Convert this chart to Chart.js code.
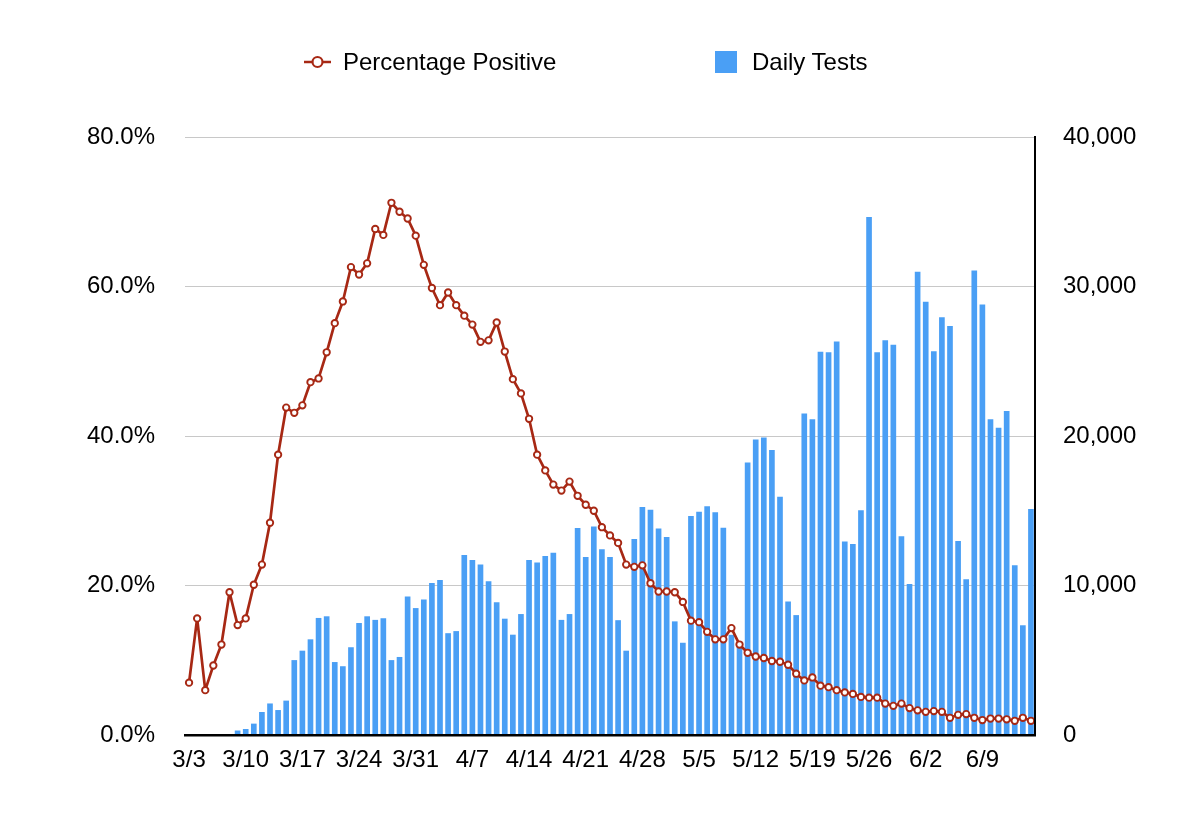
<!DOCTYPE html>
<html>
<head>
<meta charset="utf-8">
<title>Percentage Positive / Daily Tests</title>
<script src="https://cdn.jsdelivr.net/npm/chart.js@4.4.0/dist/chart.umd.min.js"></script>
<style>
    html, body { margin: 0; padding: 0; background: #fff; }
    #wrap { position: relative; width: 1200px; height: 832px; }
    #legend { position: absolute; left: 0; top: 0; width: 1200px; height: 100px;
        font-family: "Liberation Sans", Arial, Helvetica, sans-serif; font-size: 24px; color: #000; }
    .item { position: absolute; top: 48px; height: 28px; display: flex; align-items: center; }
    .item span { white-space: nowrap; }
    #item-line { left: 304px; }
    #item-line svg { margin-right: 12px; }
    #item-bar { left: 715px; }
    #item-bar i { display: inline-block; width: 22px; height: 22px; margin-right: 15px; }
</style>
</head>
<body>
<div id="wrap">
    <canvas id="chart" width="1200" height="832"></canvas>
    <div id="legend">
        <div class="item" id="item-line">
            <svg width="27" height="14"><line x1="0" y1="7" x2="27" y2="7" stroke-width="2.5"></line><circle cx="13.5" cy="7" r="5" fill="#fff" stroke-width="2.2"></circle></svg>
            <span id="label-line"></span>
        </div>
        <div class="item" id="item-bar"><i></i><span id="label-bar"></span></div>
    </div>
</div>
<script>
// one entry per day, 3/3 .. 6/15
const days = [
    '3/3','3/4','3/5','3/6','3/7','3/8','3/9','3/10','3/11','3/12','3/13','3/14','3/15','3/16','3/17',
    '3/18','3/19','3/20','3/21','3/22','3/23','3/24','3/25','3/26','3/27','3/28','3/29','3/30','3/31',
    '4/1','4/2','4/3','4/4','4/5','4/6','4/7','4/8','4/9','4/10','4/11','4/12','4/13','4/14','4/15',
    '4/16','4/17','4/18','4/19','4/20','4/21','4/22','4/23','4/24','4/25','4/26','4/27','4/28','4/29','4/30',
    '5/1','5/2','5/3','5/4','5/5','5/6','5/7','5/8','5/9','5/10','5/11','5/12','5/13','5/14','5/15',
    '5/16','5/17','5/18','5/19','5/20','5/21','5/22','5/23','5/24','5/25','5/26','5/27','5/28','5/29','5/30','5/31',
    '6/1','6/2','6/3','6/4','6/5','6/6','6/7','6/8','6/9','6/10','6/11','6/12','6/13','6/14','6/15'
];

// only these dates get a label under the axis
const tickLabels = ['3/3','3/10','3/17','3/24','3/31','4/7','4/14','4/21','4/28','5/5','5/12','5/19','5/26','6/2','6/9'];

const pctTicks = [0, 20, 40, 60, 80];
const testTicks = [0, 10000, 20000, 30000, 40000];

// percentage positive, in %
const percentPositive = [
    7.0, 15.6, 6.0, 9.3, 12.1, 19.1, 14.7, 15.6, 20.1, 22.8, 28.4, 37.5, 43.8, 43.1, 44.1,
    47.2, 47.7, 51.2, 55.1, 58.0, 62.6, 61.6, 63.1, 67.7, 66.9, 71.2, 70.0, 69.1, 66.8,
    62.9, 59.8, 57.5, 59.2, 57.5, 56.1, 54.9, 52.6, 52.8, 55.2, 51.3, 47.6, 45.7, 42.3, 37.5,
    35.4, 33.5, 32.7, 33.9, 32.0, 30.8, 30.0, 27.8, 26.7, 25.7, 22.8, 22.5, 22.7, 20.3, 19.2,
    19.2, 19.1, 17.8, 15.3, 15.1, 13.8, 12.8, 12.8, 14.3, 12.1, 11.0, 10.5, 10.3, 9.9, 9.8,
    9.4, 8.2, 7.3, 7.7, 6.6, 6.4, 6.0, 5.7, 5.5, 5.1, 5.0, 5.0, 4.2, 3.9, 4.2, 3.6,
    3.3, 3.1, 3.2, 3.1, 2.3, 2.7, 2.8, 2.3, 2.0, 2.2, 2.2, 2.1, 1.9, 2.3, 1.9
];

// daily tests
const dailyTests = [
    0, 0, 0, 0, 0, 0, 300, 400, 760, 1540, 2110, 1670, 2300, 5010, 5640,
    6400, 7830, 7940, 4880, 4600, 5870, 7490, 7940, 7700, 7810, 5010, 5220, 9270, 8490,
    9060, 10160, 10370, 6810, 6950, 12040, 11700, 11410, 10290, 8880, 7780, 6710, 8090, 11700, 11540,
    11980, 12190, 7700, 8090, 13840, 11910, 13940, 12430, 11910, 7680, 5640, 13110, 15250, 15070, 13810,
    13240, 7600, 6170, 14650, 14930, 15300, 14900, 13860, 6700, 5900, 18230, 19770, 19900, 19060, 15930,
    8930, 8020, 21510, 21120, 25640, 25610, 26320, 12950, 12770, 15040, 34650, 25610, 26400, 26110, 13290, 10100,
    30990, 28980, 25670, 27940, 27360, 12980, 10420, 31070, 28800, 21120, 20550, 21670, 11360, 7340, 15120
];

const seriesNames = ['Percentage Positive', 'Daily Tests'];
const lineColor = '#a72814';
const barColor = '#4a9ff5';
const font = {family: '"Liberation Sans", Arial, Helvetica, sans-serif', size: 24};

// html legend
document.getElementById('label-line').textContent = seriesNames[0];
document.getElementById('label-bar').textContent = seriesNames[1];
let svg = document.querySelector('#item-line svg');
svg.querySelector('line').setAttribute('stroke', lineColor);
svg.querySelector('circle').setAttribute('stroke', lineColor);
document.querySelector('#item-bar i').style.background = barColor;

function fixedTicks(values){
    return function(scale){
        scale.ticks = values.map(function(v){ return {value: v}; });
    }
}

const config = {
    type: 'bar',
    data: {
        labels: days,
        datasets: [
            {
                type: 'line',
                label: seriesNames[0],
                data: percentPositive,
                yAxisID: 'y',
                order: 0,
                borderColor: lineColor,
                borderWidth: 2.7,
                borderJoinStyle: 'round',
                backgroundColor: '#fff',
                pointRadius: 3.2,
                pointBorderWidth: 1.9,
                pointBackgroundColor: '#fff',
                pointBorderColor: lineColor,
                tension: 0,
            },
            {
                type: 'bar',
                label: seriesNames[1],
                data: dailyTests,
                yAxisID: 'y1',
                order: 1,
                backgroundColor: barColor,
                barPercentage: 0.7,
                categoryPercentage: 1.0,
            }
        ]
    },
    options: {
        responsive: false,
        animation: false,
        layout: {padding: {top: 137, left: 0, right: 0, bottom: 0}},
        plugins: {
            legend: {display: false},
            tooltip: {enabled: false},
        },
        scales: {
            x: {
                offset: true,
                grid: {display: false, drawTicks: false},
                // z > 0 so the black baseline goes over the bars
                border: {display: true, color: '#000', width: 2.5, z: 1},
                ticks: {
                    autoSkip: false,
                    maxRotation: 0,
                    padding: 11,
                    color: '#000',
                    font: font,
                    callback: function(value, index){
                        let d = days[index];
                        return tickLabels.includes(d) ? d : null;
                    }
                },
                afterFit: function(scale){ scale.height = 97; }
            },
            y: {
                position: 'left',
                min: 0,
                max: 80,
                afterBuildTicks: fixedTicks(pctTicks),
                grid: {color: '#c8c8c8', lineWidth: 1, drawTicks: false},
                border: {display: false},
                ticks: {
                    padding: 30,
                    color: '#000',
                    font: font,
                    callback: function(v){ return v.toFixed(1) + '%'; }
                },
                afterFit: function(scale){ scale.width = 185; }
            },
            y1: {
                position: 'right',
                min: 0,
                max: 40000,
                afterBuildTicks: fixedTicks(testTicks),
                grid: {display: false, drawTicks: false},
                border: {display: true, color: '#000', width: 2, z: 1},
                ticks: {
                    padding: 28,
                    color: '#000',
                    font: font,
                    callback: function(v){ return v.toLocaleString('en-US'); }
                },
                afterFit: function(scale){ scale.width = 165; }
            }
        }
    }
};

let chart = new Chart(document.getElementById('chart'), config);
</script>
</body>
</html>
